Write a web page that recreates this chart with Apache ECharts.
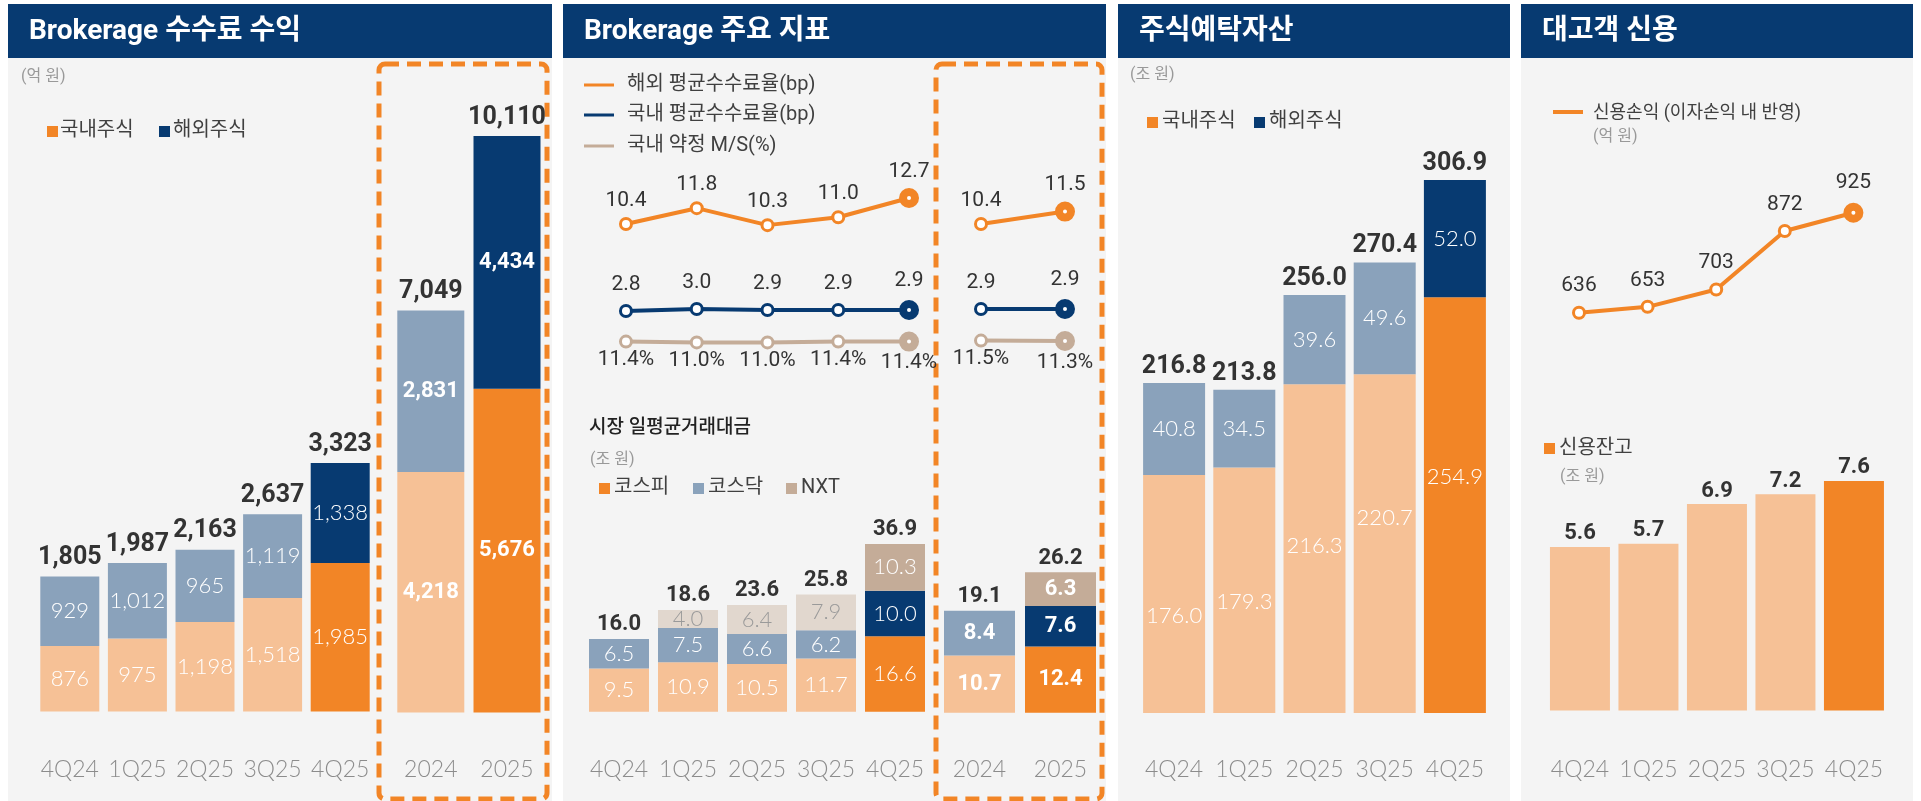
<!DOCTYPE html>
<html>
<head>
<meta charset="utf-8">
<script src="https://cdn.jsdelivr.net/npm/echarts@6/dist/echarts.min.js"></script>
<style>
  html, body { margin: 0; padding: 0; background: #fff; }
  #chart { width: 1921px; height: 801px; }
</style>
</head>
<body>
<div id="chart"></div>
<script>
  // 카테고리
  var quarters = ['4Q24', '1Q25', '2Q25', '3Q25', '4Q25']
  var years = ['2024', '2025']

  // Brokerage 수수료 수익 (억 원)
  var feeDomesticQ = [876, 975, 1198, 1518, 1985]
  var feeOverseasQ = [929, 1012, 965, 1119, 1338]
  var feeTotalQ = [1805, 1987, 2163, 2637, 3323]
  var feeDomesticY = [4218, 5676]
  var feeOverseasY = [2831, 4434]
  var feeTotalY = [7049, 10110]

  // Brokerage 주요 지표
  var overseasRateQ = [10.4, 11.8, 10.3, 11.0, 12.7]
  var domesticRateQ = [2.8, 3.0, 2.9, 2.9, 2.9]
  var marketShareQ = [11.4, 11.0, 11.0, 11.4, 11.4]
  var overseasRateY = [10.4, 11.5]
  var domesticRateY = [2.9, 2.9]
  var marketShareY = [11.5, 11.3]

  // 시장 일평균거래대금 (조 원)
  var kospiQ = [9.5, 10.9, 10.5, 11.7, 16.6]
  var kosdaqQ = [6.5, 7.5, 6.6, 6.2, 10.0]
  var nxtQ = [null, 4.0, 6.4, 7.9, 10.3]
  var turnoverTotalQ = [16.0, 18.6, 23.6, 25.8, 36.9]
  var kospiY = [10.7, 12.4]
  var kosdaqY = [8.4, 7.6]
  var nxtY = [null, 6.3]
  var turnoverTotalY = [19.1, 26.2]

  // 주식예탁자산 (조 원)
  var depositDomestic = [176.0, 179.3, 216.3, 220.7, 254.9]
  var depositOverseas = [40.8, 34.5, 39.6, 49.6, 52.0]
  var depositTotal = [216.8, 213.8, 256.0, 270.4, 306.9]

  // 대고객 신용
  var creditIncome = [636, 653, 703, 872, 925]   // 억 원
  var creditBalance = [5.6, 5.7, 6.9, 7.2, 7.6]  // 조 원

  var FONT = 'Roboto, "Noto Sans CJK KR", sans-serif'
  var THIN = 'Lato, Roboto, sans-serif'
  var NAVY = '#073a71'
  var ORANGE = '#f28526'
  var LIGHT = '#f6c196'
  var GRAYBLUE = '#8aa2bb'
  var NXT_L = '#e1d7ce'
  var NXT_D = '#c4ac98'
  var BG = '#f4f4f4'

  // 원본처럼 예탁자산 막대 안 숫자가 가운데서 조금씩 어긋나 있음
  var depositLabelShift = [22, 12, -3, -26, -28]

  // 두 점(값, 픽셀y)으로 축 범위 맞추기
  function fit (v1, y1, v2, y2, top, bottom) {
    var k = (y1 - y2) / (v2 - v1)
    return { min: v1 - (bottom - y1) / k, max: v1 + (y1 - top) / k }
  }

  function grid (left, width, top, bottom) {
    return { left: left, width: width, top: top, height: bottom - top }
  }

  function catAxis (gridIndex, data, bottom, show) {
    return {
      type: 'category',
      gridIndex: gridIndex,
      data: data,
      show: show !== false,
      axisLine: { show: false },
      axisTick: { show: false },
      axisLabel: { interval: 0, fontSize: 23, color: '#8c8c8c', fontFamily: THIN, fontWeight: 300, margin: 770 - 11.5 - bottom }
    }
  }

  function valAxis (gridIndex, range) {
    return { type: 'value', gridIndex: gridIndex, show: false, min: range.min, max: range.max, splitLine: { show: false } }
  }

  function paint (values, colors, labelColors, bold) {
    return values.map(function (v, i) {
      return {
        value: v,
        itemStyle: { color: colors[i] },
        label: {
          color: labelColors ? labelColors[i] : '#fff',
          fontWeight: bold && bold[i] ? 'bold' : 300,
          fontFamily: bold && bold[i] ? FONT : THIN
        }
      }
    })
  }

  function comma (p) { return p.value.toLocaleString('en-US') }
  function oneDec (p) { return p.value.toFixed(1) }

  function stackBar (xi, yi, stack, width, data, fmt) {
    return {
      type: 'bar', xAxisIndex: xi, yAxisIndex: yi, stack: stack, barWidth: width, data: data,
      label: { show: true, position: 'inside', fontSize: 22, fontFamily: THIN, formatter: fmt }
    }
  }

  function totalBar (xi, yi, stack, width, totals, fmt, size, dist) {
    return {
      type: 'bar', xAxisIndex: xi, yAxisIndex: yi, stack: stack, barWidth: width,
      data: totals.map(function () { return 0 }),
      label: {
        show: true, position: 'top', distance: dist, fontSize: size, fontWeight: 'bold', color: '#333', fontFamily: FONT,
        formatter: function (p) { return fmt(totals[p.dataIndex]) }
      }
    }
  }

  function lineSeries (xi, yi, data, color, pos, dist, fmt) {
    return {
      type: 'line', xAxisIndex: xi, yAxisIndex: yi, clip: false, z: 5,
      symbol: 'circle', showAllSymbol: true,
      data: data.map(function (v, i) {
        var last = i === data.length - 1
        return { value: v, symbolSize: last ? 12 : 11, itemStyle: { borderWidth: last ? 8 : 3 } }
      }),
      lineStyle: { color: color, width: 4 },
      itemStyle: { color: '#fff', borderColor: color, borderWidth: 3 },
      label: { show: true, position: pos, distance: dist, fontSize: 21, color: '#333', fontFamily: FONT, formatter: fmt }
    }
  }

  var q5 = function (a, b) { return [a, a, a, a, b] }
  var fmtComma = function (v) { return v.toLocaleString('en-US') }
  var fmtDec = function (v) { return v.toFixed(1) }

  // 패널 배경, 제목, 범례
  var panels = [[8, 544, 'Brokerage 수수료 수익'], [563, 543, 'Brokerage 주요 지표'], [1118, 392, '주식예탁자산'], [1521, 392, '대고객 신용']]
  var elements = []
  panels.forEach(function (p) {
    elements.push({ type: 'rect', shape: { x: p[0], y: 4, width: p[1], height: 797 }, style: { fill: BG } })
    elements.push({ type: 'rect', shape: { x: p[0], y: 4, width: p[1], height: 54 }, style: { fill: NAVY } })
    elements.push({ type: 'text', x: p[0] + 21, y: 32, style: { text: p[2], fill: '#fff', fontSize: 28, fontWeight: 'bold', fontFamily: FONT, verticalAlign: 'middle' } })
  })
  function txt (x, y, s, size, color, weight) {
    elements.push({ type: 'text', x: x, y: y, style: { text: s, fill: color, fontSize: size, fontWeight: weight || 'normal', fontFamily: FONT, verticalAlign: 'middle' } })
  }
  function square (x, y, color) {
    elements.push({ type: 'rect', shape: { x: x, y: y, width: 11, height: 11 }, style: { fill: color } })
  }
  function legLine (x, y, color, w) {
    elements.push({ type: 'line', shape: { x1: x, y1: y, x2: x + 30, y2: y }, style: { stroke: color, lineWidth: w } })
  }
  // 점선 박스 (연간 비교)
  elements.push({ type: 'rect', shape: { x: 379, y: 64, width: 168, height: 735, r: 6 }, style: { fill: 'none', stroke: ORANGE, lineWidth: 5, lineDash: [14, 8] } })
  elements.push({ type: 'rect', shape: { x: 936, y: 64, width: 166, height: 735, r: 6 }, style: { fill: 'none', stroke: ORANGE, lineWidth: 5, lineDash: [14, 8] } })

  txt(21, 77, '(억 원)', 16, '#999')
  square(47, 126, ORANGE); txt(60, 131, '국내주식', 20, '#404040')
  square(159, 126, NAVY); txt(173, 131, '해외주식', 20, '#404040')

  legLine(584, 85, ORANGE, 3); txt(627, 85, '해외 평균수수료율(bp)', 20, '#404040')
  legLine(584, 115, NAVY, 3); txt(627, 115, '국내 평균수수료율(bp)', 20, '#404040')
  legLine(584, 146, NXT_D, 3); txt(627, 146, '국내 약정 M/S(%)', 20, '#404040')
  txt(589, 428, '시장 일평균거래대금', 19, '#222', 500)
  txt(590, 460, '(조 원)', 16, '#999')
  square(599, 483, ORANGE); txt(614, 488, '코스피', 20, '#404040')
  square(693, 483, GRAYBLUE); txt(708, 488, '코스닥', 20, '#404040')
  square(786, 483, NXT_D); txt(801, 488, 'NXT', 20, '#404040')

  txt(1130, 75, '(조 원)', 16, '#999')
  square(1147, 117, ORANGE); txt(1162, 122, '국내주식', 20, '#404040')
  square(1254, 117, NAVY); txt(1269, 122, '해외주식', 20, '#404040')

  legLine(1553, 112, ORANGE, 4); txt(1593, 113, '신용손익 (이자손익 내 반영)', 18, '#404040')
  txt(1593, 137, '(억 원)', 16, '#999')
  square(1544, 443, ORANGE); txt(1559, 449, '신용잔고', 20, '#404040')
  txt(1560, 477, '(조 원)', 16, '#999')

  var depositDomesticItems = paint(depositDomestic, q5(LIGHT, ORANGE))
  depositDomesticItems.forEach(function (d, i) { d.label.offset = [0, depositLabelShift[i]] })

  var option = {
    animation: false,
    backgroundColor: '#fff',
    graphic: { elements: elements },
    grid: [
      grid(36, 338, 100, 711.5),       // 0 수수료 분기
      grid(392.7, 152.4, 100, 712.5),  // 1 수수료 연간
      grid(590.6, 353.8, 150, 400),    // 2 지표 분기
      grid(939, 168, 150, 400),        // 3 지표 연간
      grid(584.5, 345, 300, 711.7),    // 4 거래대금 분기
      grid(939, 162, 300, 712.7),      // 5 거래대금 연간
      grid(1139, 351, 120, 713),       // 6 예탁자산
      grid(1544.7, 343, 150, 400),     // 7 신용손익
      grid(1545.7, 342.5, 400, 710.5)  // 8 신용잔고
    ],
    xAxis: [
      catAxis(0, quarters, 711.5),
      catAxis(1, years, 712.5),
      catAxis(2, quarters, 400, false),
      catAxis(3, years, 400, false),
      catAxis(4, quarters, 711.7),
      catAxis(5, years, 712.7),
      catAxis(6, quarters, 713),
      catAxis(7, quarters, 400, false),
      catAxis(8, quarters, 710.5)
    ],
    yAxis: [
      valAxis(0, fit(0, 711.5, 3323, 463, 100, 711.5)),
      valAxis(1, fit(0, 712.5, 10110, 136, 100, 712.5)),
      valAxis(2, fit(10.4, 224, 12.7, 198, 150, 400)),
      valAxis(2, fit(2.8, 311, 3.0, 309, 150, 400)),
      valAxis(2, fit(11.0, 342.4, 11.5, 341.4, 150, 400)),
      valAxis(3, fit(10.4, 224, 12.7, 198, 150, 400)),
      valAxis(3, fit(2.8, 310, 3.0, 308, 150, 400)),
      valAxis(3, fit(11.0, 341.6, 11.5, 340.6, 150, 400)),
      valAxis(4, fit(0, 711.7, 36.9, 544, 300, 711.7)),
      valAxis(5, fit(0, 712.7, 26.3, 572.3, 300, 712.7)),
      valAxis(6, fit(176.0, 475, 306.9, 180, 120, 713)),
      valAxis(7, fit(636, 312.7, 925, 212.7, 150, 400)),
      valAxis(8, fit(5.6, 547, 7.6, 481, 400, 710.5))
    ],
    series: [
      // Brokerage 수수료 수익
      stackBar(0, 0, 'fq', 59, paint(feeDomesticQ, q5(LIGHT, ORANGE)), comma),
      stackBar(0, 0, 'fq', 59, paint(feeOverseasQ, q5(GRAYBLUE, NAVY)), comma),
      totalBar(0, 0, 'fq', 59, feeTotalQ, fmtComma, 25, 6),
      stackBar(1, 1, 'fy', 67, paint(feeDomesticY, [LIGHT, ORANGE], null, [true, true]), comma),
      stackBar(1, 1, 'fy', 67, paint(feeOverseasY, [GRAYBLUE, NAVY], null, [true, true]), comma),
      totalBar(1, 1, 'fy', 67, feeTotalY, fmtComma, 25, 6),

      // 주요 지표
      lineSeries(2, 2, overseasRateQ, ORANGE, 'top', 6, oneDec),
      lineSeries(2, 3, domesticRateQ, NAVY, 'top', 9, oneDec),
      lineSeries(2, 4, marketShareQ, NXT_D, 'bottom', 1, function (p) { return p.value.toFixed(1) + '%' }),
      lineSeries(3, 5, overseasRateY, ORANGE, 'top', 6, oneDec),
      lineSeries(3, 6, domesticRateY, NAVY, 'top', 9, oneDec),
      lineSeries(3, 7, marketShareY, NXT_D, 'bottom', 1, function (p) { return p.value.toFixed(1) + '%' }),

      // 시장 일평균거래대금
      stackBar(4, 8, 'tq', 60, paint(kospiQ, q5(LIGHT, ORANGE)), oneDec),
      stackBar(4, 8, 'tq', 60, paint(kosdaqQ, q5(GRAYBLUE, NAVY)), oneDec),
      stackBar(4, 8, 'tq', 60, paint(nxtQ, q5(NXT_L, NXT_D), q5('#9a9a9a', '#fff')), oneDec),
      totalBar(4, 8, 'tq', 60, turnoverTotalQ, fmtDec, 22, 3),
      stackBar(5, 9, 'ty', 71, paint(kospiY, [LIGHT, ORANGE], null, [true, true]), oneDec),
      stackBar(5, 9, 'ty', 71, paint(kosdaqY, [GRAYBLUE, NAVY], null, [true, true]), oneDec),
      stackBar(5, 9, 'ty', 71, paint(nxtY, [NXT_L, NXT_D], null, [true, true]), oneDec),
      totalBar(5, 9, 'ty', 71, turnoverTotalY, fmtDec, 22, 3),

      // 주식예탁자산
      stackBar(6, 10, 'dp', 62, depositDomesticItems, oneDec),
      stackBar(6, 10, 'dp', 62, paint(depositOverseas, q5(GRAYBLUE, NAVY)), oneDec),
      totalBar(6, 10, 'dp', 62, depositTotal, fmtDec, 25, 4),

      // 대고객 신용
      lineSeries(7, 11, creditIncome, ORANGE, 'top', 9, function (p) { return String(p.value) }),
      {
        type: 'bar', xAxisIndex: 8, yAxisIndex: 12, barWidth: 60,
        data: creditBalance.map(function (v, i) { return { value: v, itemStyle: { color: i === 4 ? ORANGE : LIGHT } } }),
        label: { show: true, position: 'top', distance: 2, fontSize: 22, fontWeight: 'bold', color: '#333', fontFamily: FONT, formatter: oneDec }
      }
    ]
  }

  var chart = echarts.init(document.getElementById('chart'))
  chart.setOption(option)
</script>
</body>
</html>
